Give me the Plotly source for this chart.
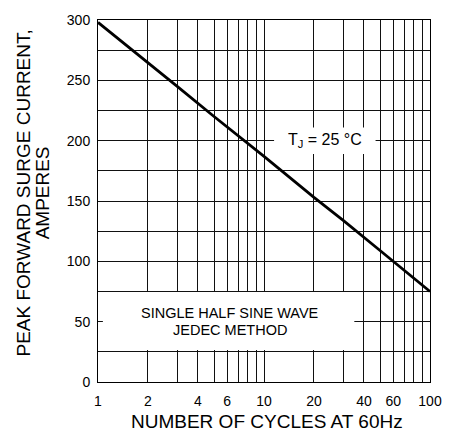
import plotly.graph_objects as go

# Data
cycles = [1, 2, 3, 5, 10, 20, 30, 50, 100]
surge_current = [298, 265, 245, 220, 187, 153, 134, 109, 75]

x_labeled = [1, 2, 4, 6, 10, 20, 40, 60, 100]
x_minor = [3, 5, 7, 8, 9, 30, 50, 70, 80, 90]
y_labeled = [0, 50, 100, 150, 200, 250, 300]

FONT = "Liberation Sans, Arial, sans-serif"
GRID = "#111111"

fig = go.Figure()
fig.add_trace(go.Scatter(
    x=cycles, y=surge_current, mode="lines",
    line=dict(color="black", width=2.8),
    showlegend=False, hoverinfo="skip",
))

axis_common = dict(
    showgrid=True, gridcolor=GRID, gridwidth=1,
    showline=True, linecolor="black", linewidth=1, mirror=True,
    ticks="", zeroline=False,
    tickfont=dict(family=FONT, size=14, color="black"),
)

fig.update_xaxes(type="log", range=[0, 2], tickvals=x_labeled,
                 ticktext=[str(v) for v in x_labeled],
                 minor=dict(tickvals=x_minor, showgrid=True, gridcolor=GRID, gridwidth=1, ticks=""),
                 ticklabelstandoff=6, **axis_common)
fig.update_yaxes(range=[0, 300], tickvals=y_labeled,
                 ticktext=[str(v) for v in y_labeled],
                 minor=dict(dtick=25, showgrid=True, gridcolor=GRID, gridwidth=1, ticks=""),
                 ticklabelstandoff=4, **axis_common)

# white masks behind the in-plot labels (grid interrupted as in the original)
fig.add_shape(type="rect", xref="x", yref="y", x0=1.07, x1=35, y0=26.5, y1=74.5,
              fillcolor="white", line=dict(width=0), layer="between")
fig.add_shape(type="rect", xref="x", yref="y", x0=11.5, x1=47, y0=189, y1=211,
              fillcolor="white", line=dict(width=0), layer="between")

ann_font = dict(family=FONT, size=14.5, color="black")
fig.add_annotation(x=1.367, y=200, xref="x", yref="y", showarrow=False,
                   text="T<sub>J</sub> = 25 °C", font=dict(family=FONT, size=16, color="black"),
                   xanchor="center", yanchor="middle")
fig.add_annotation(x=0.793, y=57, xref="x", yref="y", showarrow=False,
                   text="SINGLE HALF SINE WAVE", font=ann_font, xanchor="center", yanchor="middle")
fig.add_annotation(x=0.793, y=43, xref="x", yref="y", showarrow=False,
                   text="JEDEC METHOD", font=ann_font, xanchor="center", yanchor="middle")

title_font = dict(family=FONT, size=19, color="black")
fig.add_annotation(x=0.51, y=-0.11, xref="paper", yref="paper", showarrow=False,
                   text="NUMBER OF CYCLES AT 60Hz", font=title_font,
                   xanchor="center", yanchor="middle")
fig.add_annotation(x=(23 - 98) / 334, y=0.522, xref="paper", yref="paper", showarrow=False,
                   text="PEAK FORWARD SURGE CURRENT,", font=title_font, textangle=-90,
                   xanchor="center", yanchor="middle")
fig.add_annotation(x=(42 - 98) / 334, y=0.522, xref="paper", yref="paper", showarrow=False,
                   text="AMPERES", font=title_font, textangle=-90,
                   xanchor="center", yanchor="middle")

fig.update_layout(
    width=454, height=438,
    margin=dict(l=98, r=22, t=18, b=56),
    paper_bgcolor="white", plot_bgcolor="white",
    font=dict(family=FONT, color="black"),
)

fig.write_html("out.html", config={"displayModeBar": False},
               post_script="document.body.style.margin='0';")
